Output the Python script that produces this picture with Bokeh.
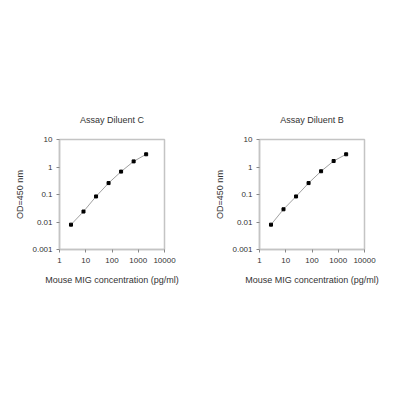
from bokeh.plotting import figure
from bokeh.layouts import row
from bokeh.models import FixedTicker
from bokeh.embed import file_html
from bokeh.resources import INLINE

titles = ["Assay Diluent C", "Assay Diluent B"]
conc = [2.74, 8.2, 24.7, 74, 222, 667, 2000]
od_c = [0.008, 0.024, 0.085, 0.26, 0.68, 1.6, 2.9]
od_b = [0.008, 0.029, 0.085, 0.26, 0.70, 1.65, 2.9]
x_ticks = [1, 10, 100, 1000, 10000]
x_tick_labels = ["1", "10", "100", "1000", "10000"]
y_ticks = [0.001, 0.01, 0.1, 1, 10]
y_tick_labels = ["0.001", "0.01", "0.1", "1", "10"]
x_label = "Mouse MIG concentration (pg/ml)"
y_label = "OD=450 nm"

FONT = "Liberation Sans"
TXT = "#333333"
FRAME = "#c4c4c4"


def make(title, ys, left, right):
    p = figure(width=192, height=384, x_axis_type="log", y_axis_type="log",
               x_range=(1, 10000), y_range=(0.001, 10),
               output_backend="svg", toolbar_location=None, title=title,
               min_border_left=left, min_border_right=right,
               min_border_top=139, min_border_bottom=135)
    p.title.align = "center"
    p.title.text_font = FONT
    p.title.text_font_size = "9px"
    p.title.text_font_style = "normal"
    p.title.text_color = TXT
    p.title.standoff = 29
    p.grid.visible = False
    p.outline_line_color = FRAME
    p.outline_line_width = 1.5
    p.background_fill_color = "white"
    p.border_fill_color = "white"

    p.xaxis.ticker = FixedTicker(ticks=x_ticks)
    p.yaxis.ticker = FixedTicker(ticks=y_ticks)
    p.xaxis.major_label_overrides = {t: l for t, l in zip(x_ticks, x_tick_labels)}
    p.yaxis.major_label_overrides = {t: l for t, l in zip(y_ticks, y_tick_labels)}
    for ax in (p.xaxis, p.yaxis):
        ax.axis_line_color = FRAME
        ax.axis_line_width = 1.5
        ax.major_tick_line_color = "#888888"
        ax.major_tick_in = 0
        ax.major_tick_out = 3
        ax.minor_tick_line_color = None
        ax.major_label_text_font = FONT
        ax.major_label_text_font_size = "8px"
        ax.major_label_text_color = TXT
        ax.axis_label_text_font = FONT
        ax.axis_label_text_font_size = "9px"
        ax.axis_label_text_font_style = "normal"
        ax.axis_label_text_color = TXT
    p.xaxis.axis_label = x_label
    p.yaxis.axis_label = y_label
    p.xaxis.major_label_standoff = 5
    p.yaxis.major_label_standoff = 4
    p.xaxis.axis_label_standoff = 9
    p.yaxis.axis_label_standoff = 4

    p.line(conc, ys, line_color="#a0a0a0", line_width=1)
    p.scatter(conc, ys, marker="square", size=3, fill_color="black", line_color="black")
    return p


p1 = make(titles[0], od_c, 59, 28)
p2 = make(titles[1], od_b, 67, 20)
layout = row(p1, p2)

open("out.html", "w").write(file_html(layout, INLINE))
